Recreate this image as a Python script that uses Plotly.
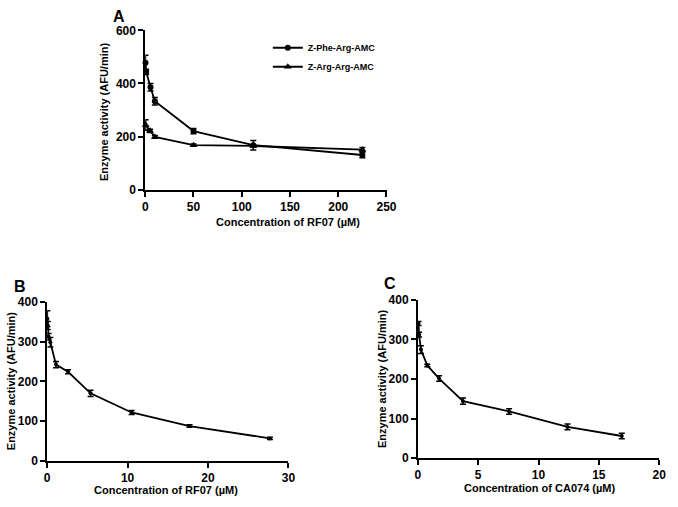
import plotly.graph_objects as go

W, H = 678, 507

# Panel A data
a_phe_x = [0.3, 1.0, 5.5, 10.0, 50.0, 112.0, 225.0]
a_phe_y = [478, 444, 386, 333, 221, 168, 131]
a_phe_err = [28, 10, 14, 14, 10, 18, 10]
a_arg_x = [0.5, 5.0, 10.0, 50.0, 112.0, 225.0]
a_arg_y = [244, 222, 199, 168, 165, 151]
a_arg_err = [20, 6, 5, 4, 5, 8]

# Panel B data (RF07)
b_x = [0.03, 0.08, 0.18, 0.4, 1.1, 2.6, 5.4, 10.5, 17.7, 27.7]
b_y = [357, 340, 312, 298, 242, 224, 170, 122, 88, 57]
b_err = [20, 10, 8, 12, 8, 5, 8, 5, 3, 3]

# Panel C data (CA074)
c_x = [0.05, 0.1, 0.25, 0.78, 1.76, 3.74, 7.56, 12.4, 16.9]
c_y = [340, 312, 274, 234, 201, 144, 118, 79, 56]
c_err = [5, 6, 10, 3, 7, 8, 7, 7, 7]

FONT = "Liberation Sans, Arial, sans-serif"

fig = go.Figure()

def tr(x, y, err, sym, name, xa, ya, show, msize):
    fig.add_trace(go.Scatter(
        x=x, y=y, mode="lines+markers", name=name, showlegend=show,
        xaxis=xa, yaxis=ya,
        line=dict(color="black", width=1.8),
        marker=dict(symbol=sym, size=msize, color="black"),
        error_y=dict(type="data", array=err, visible=True, color="black",
                     thickness=1.5, width=3),
        cliponaxis=False,
    ))

tr(a_phe_x, a_phe_y, a_phe_err, "circle", "Z-Phe-Arg-AMC", "x", "y", True, 6)
tr(a_arg_x, a_arg_y, a_arg_err, "triangle-up", "Z-Arg-Arg-AMC", "x", "y", True, 7)
tr(b_x, b_y, b_err, "circle", "B", "x2", "y2", False, 4)
tr(c_x, c_y, c_err, "circle", "C", "x3", "y3", False, 4)

def dom_x(l, r):
    return [l / W, r / W]

def dom_y(t, b):
    return [1 - b / H, 1 - t / H]

axcommon = dict(showgrid=False, zeroline=False, showline=True, linecolor="black",
                linewidth=1.8, ticks="outside", ticklen=5, tickwidth=1.5,
                tickcolor="black",
                tickfont=dict(family=FONT, size=12, color="black", weight="bold"))

fig.update_layout(
    width=W, height=H,
    margin=dict(l=0, r=0, t=0, b=0),
    paper_bgcolor="white", plot_bgcolor="white",
    font=dict(family=FONT, color="black"),
    xaxis=dict(domain=dom_x(145, 391), range=[0, 250], tickvals=[0, 50, 100, 150, 200, 250], anchor="y", **axcommon),
    yaxis=dict(domain=dom_y(24, 188), range=[0, 600], tickvals=[0, 200, 400, 600], anchor="x", **axcommon),
    xaxis2=dict(domain=dom_x(45, 291), range=[0, 30], tickvals=[0, 10, 20, 30], anchor="y2", **axcommon),
    yaxis2=dict(domain=dom_y(303, 467), range=[0, 400], tickvals=[0, 100, 200, 300, 400], anchor="x2", **axcommon),
    xaxis3=dict(domain=dom_x(423, 669), range=[0, 20], tickvals=[0, 5, 10, 15, 20], anchor="y3", **axcommon),
    yaxis3=dict(domain=dom_y(301, 464), range=[0, 400], tickvals=[0, 100, 200, 300, 400], anchor="x3", **axcommon),
    legend=dict(x=270 / W, y=1 - 27 / H, xanchor="left", yanchor="top",
                bgcolor="rgba(0,0,0,0)", itemwidth=30,
                font=dict(family=FONT, size=9, color="black", weight="bold"),
                tracegroupgap=4),
)

ann = []
def text(x, y, s, size, angle=0):
    ann.append(dict(x=x / W, y=1 - y / H, xref="paper", yref="paper", text=s,
                    showarrow=False, textangle=angle, xanchor="center", yanchor="middle",
                    borderpad=0,
                    font=dict(family=FONT, size=size, color="black", weight="bold")))

text(118, 10, "A", 16)
text(17, 287, "B", 16)
text(395, 284, "C", 16)
text(291, 221, "Concentration of RF07 (\u00b5M)", 11)
text(166, 497, "Concentration of RF07 (\u00b5M)", 11)
text(547, 495, "Concentration of CA074 (\u00b5M)", 11)
text(103, 108, "Enzyme activity (AFU/min)", 11, -90)
text(9, 385, "Enzyme activity (AFU/min)", 11, -90)
text(387, 383, "Enzyme activity (AFU/min)", 11, -90)
fig.update_layout(annotations=ann)

post = ("document.documentElement.style.margin='0';"
        "document.documentElement.style.overflow='hidden';"
        "document.body.style.margin='0';"
        "document.body.style.overflow='hidden';")
fig.write_html("out.html", config={"displayModeBar": False}, post_script=post)
